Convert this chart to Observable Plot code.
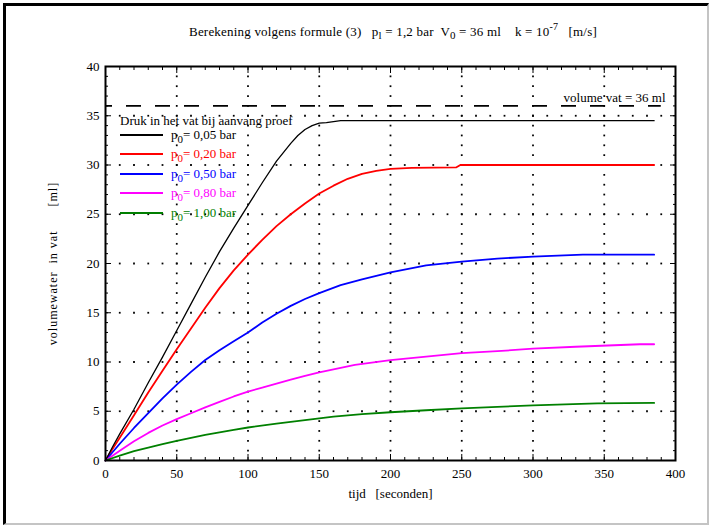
<!DOCTYPE html>
<html><head><meta charset="utf-8">
<script src="https://cdn.jsdelivr.net/npm/d3@7"></script>
<script src="https://cdn.jsdelivr.net/npm/@observablehq/plot@0.6"></script>
<style>
html,body{margin:0;padding:0;background:#fff;}
#wrap{position:relative;width:710px;height:526px;overflow:hidden;font-family:"Liberation Serif","Times New Roman",serif;color:#000;}
#border{position:absolute;left:3px;top:3px;width:706px;height:522px;box-sizing:border-box;border-top:3px solid #000;border-left:3px solid #000;border-bottom:2px solid #c4c4c4;border-right:2px solid #c4c4c4;pointer-events:none;}
#title{position:absolute;left:0;width:786px;top:24px;text-align:center;font-size:13px;white-space:pre;letter-spacing:0.2px;}
#title sub{font-size:11px;vertical-align:-3px;line-height:0;}
#title sup{font-size:10px;vertical-align:6px;line-height:0;}
#legend{position:absolute;left:120px;top:113px;font-size:13px;}
#legend .hd{position:absolute;left:0;top:0;white-space:nowrap;}
#legend .row{position:absolute;left:0;white-space:nowrap;height:16px;}
#legend .sw{position:absolute;left:0;top:7px;width:43px;height:2px;}
#legend .lb{position:absolute;left:51px;top:0;}
#legend sub{font-size:11px;vertical-align:-4px;line-height:0;margin-right:0px;}
.ylab text{letter-spacing:1px;}
svg{position:absolute;left:0;top:0;}
</style></head><body>
<div id="wrap"></div>
<script>
// Data: volume of water in vessel [ml] vs time [s]
const seriesLabels = ["0,05", "0,20", "0,50", "0,80", "1,00"];
const seriesColors = ["#000000", "#ff0000", "#0000ff", "#ff00ff", "#008000"];

const tBlack = [0,5,10,20,30,40,50,60,70,80,90,100,110,120,130,135,140,145,150,155,165,385];
const vBlack = [0,1.4,2.7,5.2,7.9,10.5,13.2,15.9,18.6,21.2,23.6,25.9,28.2,30.4,32.2,33.0,33.6,34.0,34.25,34.3,34.5,34.5];

const tRed = [0,5,10,20,30,40,50,60,70,80,90,100,110,120,130,140,150,160,170,180,190,200,215,246,249,385];
const vRed = [0,1.2,2.3,4.6,6.9,9.1,11.3,13.4,15.5,17.5,19.3,20.9,22.4,23.8,25.0,26.1,27.1,27.9,28.6,29.1,29.4,29.6,29.7,29.75,30.0,30.0];

const tBlue = [0,10,20,30,40,50,60,70,80,90,100,110,120,130,140,150,165,180,200,225,250,275,300,335,385];
const vBlue = [0,1.7,3.3,4.8,6.3,7.7,9.0,10.2,11.2,12.1,13.0,14.0,14.9,15.7,16.4,17.0,17.8,18.4,19.1,19.8,20.2,20.5,20.7,20.9,20.9];

const tMagenta = [0,10,20,30,40,50,60,70,80,90,100,110,120,130,140,150,175,200,225,250,275,300,330,375,385];
const vMagenta = [0,1.0,1.95,2.8,3.55,4.2,4.8,5.4,5.95,6.5,7.0,7.4,7.8,8.2,8.6,8.95,9.7,10.2,10.55,10.9,11.1,11.35,11.55,11.8,11.8];

const tGreen = [0,10,20,30,40,50,60,70,80,90,100,120,140,160,180,200,225,250,275,300,345,385];
const vGreen = [0,0.5,0.95,1.3,1.65,2.0,2.3,2.6,2.85,3.1,3.35,3.75,4.1,4.45,4.7,4.9,5.1,5.3,5.45,5.6,5.8,5.85];

const xTicksMajor = [0,50,100,150,200,250,300,350,400];
const yTicksMajor = [0,5,10,15,20,25,30,35,40];
const xTicksMinor = d3.range(0, 401, 10);
const yTicksMinor = d3.range(0, 41, 1);

const vesselVolume = 36;
const vesselEnd = 390;
const vesselLabel = "volume vat = 36 ml";
const xLabel = "tijd\u00A0\u00A0\u00A0[seconden]";
const yLabel = "volumewater\u00A0\u00A0in\u00A0vat\u00A0\u00A0\u00A0\u00A0\u00A0\u00A0[ml]";

// build tables
const tAll = [tBlack, tRed, tBlue, tMagenta, tGreen];
const vAll = [vBlack, vRed, vBlue, vMagenta, vGreen];
const rows = [];
tAll.forEach((ts, i) => ts.forEach((t, j) => rows.push({t, v: vAll[i][j], s: seriesLabels[i]})));
const blackRows = rows.filter(r => r.s === seriesLabels[0]);
const colorRows = rows.filter(r => r.s !== seriesLabels[0]);

// grid dots along major lines at minor-tick spacing
const gridDots = [];
xTicksMajor.slice(1, -1).forEach(x => yTicksMinor.slice(1, -1).forEach(y => gridDots.push({x, y})));
yTicksMajor.slice(1, -1).forEach(y => xTicksMinor.slice(1, -1).forEach(x => gridDots.push({x, y})));

const chart = Plot.plot({
  width: 710, height: 526,
  marginLeft: 105, marginRight: 35, marginTop: 66, marginBottom: 66,
  style: {fontFamily: "'Liberation Serif','Times New Roman',serif", fontSize: "13px", background: "transparent", color: "#000", overflow: "visible"},
  x: {domain: [0, 400]},
  y: {domain: [0, 40]},
  color: {domain: seriesLabels, range: seriesColors},
  marks: [
    Plot.dot(gridDots, {x: "x", y: "y", symbol: "square", r: 1.0, fill: "#000", stroke: null}),
    Plot.ruleY([vesselVolume], {x1: 0, x2: vesselEnd, stroke: "#000", strokeWidth: 1.8, strokeDasharray: "15,14", strokeDashoffset: 8}),
    Plot.text([vesselLabel], {x: [vesselEnd + 3], y: [vesselVolume], textAnchor: "end", dy: -8, fontSize: 13}),
    Plot.line(colorRows, {x: "t", y: "v", z: "s", stroke: "s", strokeWidth: 1.8}),
    Plot.line(blackRows, {x: "t", y: "v", z: "s", stroke: "s", strokeWidth: 1.3}),
    // inward minor ticks
    Plot.axisX({ticks: xTicksMinor, anchor: "bottom", tickSize: 3, dy: -3, fill: "none", label: null}),
    Plot.axisX({ticks: xTicksMinor, anchor: "top", tickSize: 3, dy: 3, fill: "none", label: null}),
    Plot.axisY({ticks: yTicksMinor, anchor: "left", tickSize: 3, dx: 3, fill: "none", label: null}),
    Plot.axisY({ticks: yTicksMinor, anchor: "right", tickSize: 3, dx: -3, fill: "none", label: null}),
    // inward major ticks
    Plot.axisX({ticks: xTicksMajor, anchor: "bottom", tickSize: 6, dy: -6, fill: "none", label: null}),
    Plot.axisX({ticks: xTicksMajor, anchor: "top", tickSize: 6, dy: 6, fill: "none", label: null}),
    Plot.axisY({ticks: yTicksMajor, anchor: "left", tickSize: 6, dx: 6, fill: "none", label: null}),
    Plot.axisY({ticks: yTicksMajor, anchor: "right", tickSize: 6, dx: -6, fill: "none", label: null}),
    // tick labels
    Plot.axisX({ticks: xTicksMajor, anchor: "bottom", tickSize: 0, tickPadding: 8, label: null, fontSize: 13}),
    Plot.axisY({ticks: yTicksMajor, anchor: "left", tickSize: 0, tickPadding: 6, label: null, fontSize: 13}),
    Plot.frame({stroke: "#000", strokeWidth: 2}),
    Plot.text([xLabel], {frameAnchor: "bottom", dy: 37, fontSize: 13}),
    Plot.text([yLabel], {frameAnchor: "left", textAnchor: "middle", dx: -52, rotate: -90, fontSize: 12, className: "ylab"})
  ]
});

const wrap = document.getElementById("wrap");
wrap.appendChild(chart);

// title
const title = document.createElement("div");
title.id = "title";
title.innerHTML = "Berekening volgens formule (3)   p<sub>l</sub> = 1,2 bar  V<sub>0</sub> = 36 ml    k = 10<sup>-7</sup>   [m/s]";
wrap.appendChild(title);

// legend
const legend = document.createElement("div");
legend.id = "legend";
let html = '<div class="hd">Druk in het vat bij aanvang proef</div>';
seriesLabels.forEach((s, i) => {
  html += `<div class="row" style="top:${14 + i * 19.4}px"><div class="sw" style="background:${seriesColors[i]}"></div><div class="lb" style="color:${seriesColors[i]}">p<sub>0</sub>= ${s} bar</div></div>`;
});
legend.innerHTML = html;
wrap.appendChild(legend);

const border = document.createElement("div");
border.id = "border";
wrap.appendChild(border);
</script>
</body></html>
